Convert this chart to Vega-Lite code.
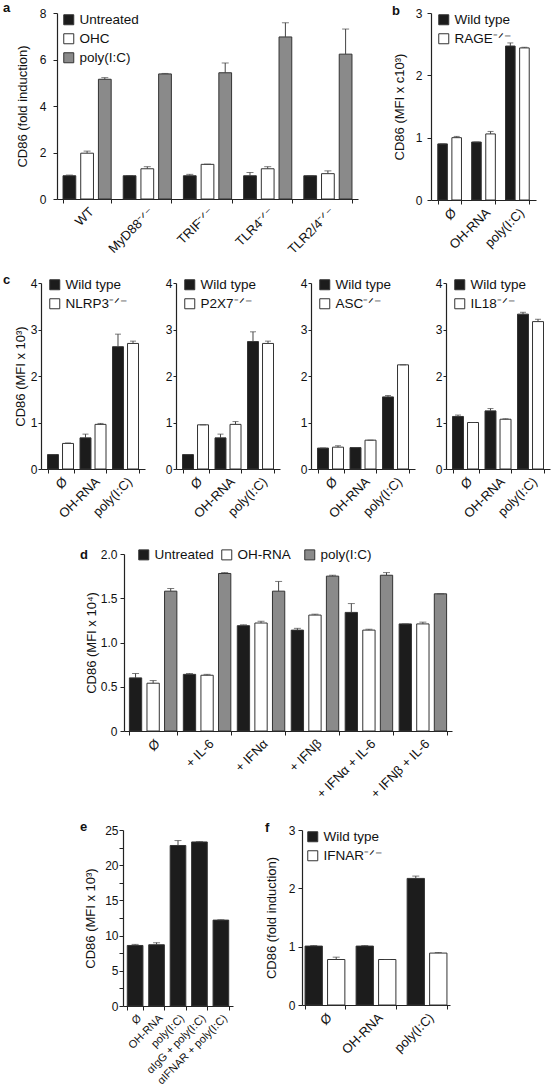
{
  "$schema": "https://vega.github.io/schema/vega-lite/v6.json",
  "padding": {"left": 2, "top": 2, "right": 2, "bottom": 0},
  "config": {
    "font": "Liberation Sans",
    "view": {"stroke": null},
    "axis": {"domainColor": "#222", "tickColor": "#222", "labelColor": "#111", "titleColor": "#111", "labelFontSize": 12, "titleFontSize": 13, "titleFontWeight": "normal", "grid": false, "tickSize": 4, "domainWidth": 1.2, "labelOverlap": false},
    "axisX": {"labelAngle": -45, "tickBand": "extent", "labelPadding": 2, "labelFontSize": 13},
    "legend": {"title": null, "orient": "none", "symbolType": "square", "symbolSize": 100, "labelFontSize": 13.5, "labelColor": "#111", "rowPadding": 4, "labelOffset": 4, "symbolStrokeColor": "#333", "symbolStrokeWidth": 1},
    "title": {"fontSize": 13, "fontWeight": "bold", "anchor": "start", "frame": "group", "color": "#111"}
  },
  "datasets": {
    "a": [
      {"g": "WT", "t": "Untreated", "v": 1.0, "hi": 1.03},
      {"g": "WT", "t": "OHC", "v": 1.97, "hi": 2.06},
      {"g": "WT", "t": "poly(I:C)", "v": 5.15, "hi": 5.22},
      {"g": "MyD88⁻ᐟ⁻", "t": "Untreated", "v": 1.0, "hi": 1.01},
      {"g": "MyD88⁻ᐟ⁻", "t": "OHC", "v": 1.3, "hi": 1.39},
      {"g": "MyD88⁻ᐟ⁻", "t": "poly(I:C)", "v": 5.38, "hi": 5.4},
      {"g": "TRIF⁻ᐟ⁻", "t": "Untreated", "v": 1.0, "hi": 1.06},
      {"g": "TRIF⁻ᐟ⁻", "t": "OHC", "v": 1.49, "hi": 1.5},
      {"g": "TRIF⁻ᐟ⁻", "t": "poly(I:C)", "v": 5.43, "hi": 5.85},
      {"g": "TLR4⁻ᐟ⁻", "t": "Untreated", "v": 1.0, "hi": 1.14},
      {"g": "TLR4⁻ᐟ⁻", "t": "OHC", "v": 1.3, "hi": 1.39},
      {"g": "TLR4⁻ᐟ⁻", "t": "poly(I:C)", "v": 6.97, "hi": 7.58},
      {"g": "TLR2/4⁻ᐟ⁻", "t": "Untreated", "v": 1.0, "hi": 1.0},
      {"g": "TLR2/4⁻ᐟ⁻", "t": "OHC", "v": 1.09, "hi": 1.21},
      {"g": "TLR2/4⁻ᐟ⁻", "t": "poly(I:C)", "v": 6.23, "hi": 7.31}
    ],
    "b": [
      {"g": "Ø", "t": "Wild type", "v": 0.9, "hi": 0.9},
      {"g": "Ø", "t": "RAGE⁻ᐟ⁻", "v": 1.0, "hi": 1.02},
      {"g": "OH-RNA", "t": "Wild type", "v": 0.93, "hi": 0.93},
      {"g": "OH-RNA", "t": "RAGE⁻ᐟ⁻", "v": 1.06, "hi": 1.1},
      {"g": "poly(I:C)", "t": "Wild type", "v": 2.47, "hi": 2.52},
      {"g": "poly(I:C)", "t": "RAGE⁻ᐟ⁻", "v": 2.44, "hi": 2.45}
    ],
    "c1": [
      {"g": "Ø", "t": "Wild type", "v": 0.31, "hi": 0.31},
      {"g": "Ø", "t": "NLRP3⁻ᐟ⁻", "v": 0.55, "hi": 0.56},
      {"g": "OH-RNA", "t": "Wild type", "v": 0.67, "hi": 0.75},
      {"g": "OH-RNA", "t": "NLRP3⁻ᐟ⁻", "v": 0.96, "hi": 0.98},
      {"g": "poly(I:C)", "t": "Wild type", "v": 2.63, "hi": 2.9},
      {"g": "poly(I:C)", "t": "NLRP3⁻ᐟ⁻", "v": 2.7, "hi": 2.75}
    ],
    "c2": [
      {"g": "Ø", "t": "Wild type", "v": 0.31, "hi": 0.31},
      {"g": "Ø", "t": "P2X7⁻ᐟ⁻", "v": 0.95, "hi": 0.95},
      {"g": "OH-RNA", "t": "Wild type", "v": 0.67, "hi": 0.75},
      {"g": "OH-RNA", "t": "P2X7⁻ᐟ⁻", "v": 0.96, "hi": 1.02},
      {"g": "poly(I:C)", "t": "Wild type", "v": 2.74, "hi": 2.95},
      {"g": "poly(I:C)", "t": "P2X7⁻ᐟ⁻", "v": 2.7, "hi": 2.75}
    ],
    "c3": [
      {"g": "Ø", "t": "Wild type", "v": 0.45, "hi": 0.45},
      {"g": "Ø", "t": "ASC⁻ᐟ⁻", "v": 0.47, "hi": 0.5},
      {"g": "OH-RNA", "t": "Wild type", "v": 0.46, "hi": 0.46},
      {"g": "OH-RNA", "t": "ASC⁻ᐟ⁻", "v": 0.62, "hi": 0.62},
      {"g": "poly(I:C)", "t": "Wild type", "v": 1.55, "hi": 1.58},
      {"g": "poly(I:C)", "t": "ASC⁻ᐟ⁻", "v": 2.24, "hi": 2.24}
    ],
    "c4": [
      {"g": "Ø", "t": "Wild type", "v": 1.13, "hi": 1.16},
      {"g": "Ø", "t": "IL18⁻ᐟ⁻", "v": 1.0, "hi": 1.0},
      {"g": "OH-RNA", "t": "Wild type", "v": 1.25, "hi": 1.3},
      {"g": "OH-RNA", "t": "IL18⁻ᐟ⁻", "v": 1.07, "hi": 1.08},
      {"g": "poly(I:C)", "t": "Wild type", "v": 3.33, "hi": 3.37},
      {"g": "poly(I:C)", "t": "IL18⁻ᐟ⁻", "v": 3.17, "hi": 3.22}
    ],
    "d": [
      {"g": "Ø", "t": "Untreated", "v": 0.6, "hi": 0.65},
      {"g": "Ø", "t": "OH-RNA", "v": 0.54, "hi": 0.57},
      {"g": "Ø", "t": "poly(I:C)", "v": 1.58, "hi": 1.61},
      {"g": "+ IL-6", "t": "Untreated", "v": 0.64, "hi": 0.65},
      {"g": "+ IL-6", "t": "OH-RNA", "v": 0.63, "hi": 0.64},
      {"g": "+ IL-6", "t": "poly(I:C)", "v": 1.78, "hi": 1.79},
      {"g": "+ IFNα", "t": "Untreated", "v": 1.19, "hi": 1.2},
      {"g": "+ IFNα", "t": "OH-RNA", "v": 1.22, "hi": 1.24},
      {"g": "+ IFNα", "t": "poly(I:C)", "v": 1.58, "hi": 1.69},
      {"g": "+ IFNβ", "t": "Untreated", "v": 1.14, "hi": 1.16},
      {"g": "+ IFNβ", "t": "OH-RNA", "v": 1.31, "hi": 1.32},
      {"g": "+ IFNβ", "t": "poly(I:C)", "v": 1.75, "hi": 1.76},
      {"g": "+ IFNα + IL-6", "t": "Untreated", "v": 1.34, "hi": 1.44},
      {"g": "+ IFNα + IL-6", "t": "OH-RNA", "v": 1.14, "hi": 1.15},
      {"g": "+ IFNα + IL-6", "t": "poly(I:C)", "v": 1.76, "hi": 1.79},
      {"g": "+ IFNβ + IL-6", "t": "Untreated", "v": 1.21, "hi": 1.21},
      {"g": "+ IFNβ + IL-6", "t": "OH-RNA", "v": 1.21, "hi": 1.23},
      {"g": "+ IFNβ + IL-6", "t": "poly(I:C)", "v": 1.55, "hi": 1.55}
    ],
    "e": [
      {"g": "Ø", "v": 8.6, "hi": 8.75},
      {"g": "OH-RNA", "v": 8.7, "hi": 9.0},
      {"g": "poly(I:C)", "v": 22.8, "hi": 23.5},
      {"g": "αIgG + poly(I:C)", "v": 23.3, "hi": 23.35},
      {"g": "αIFNAR + poly(I:C)", "v": 12.2, "hi": 12.25}
    ],
    "f": [
      {"g": "Ø", "t": "Wild type", "v": 1.01, "hi": 1.02},
      {"g": "Ø", "t": "IFNAR⁻ᐟ⁻", "v": 0.78, "hi": 0.82},
      {"g": "OH-RNA", "t": "Wild type", "v": 1.01, "hi": 1.02},
      {"g": "OH-RNA", "t": "IFNAR⁻ᐟ⁻", "v": 0.78, "hi": 0.78},
      {"g": "poly(I:C)", "t": "Wild type", "v": 2.17, "hi": 2.21},
      {"g": "poly(I:C)", "t": "IFNAR⁻ᐟ⁻", "v": 0.89, "hi": 0.9}
    ]
  },
  "spacing": 0,
  "resolve": {"scale": {"color": "independent", "x": "independent", "y": "independent", "xOffset": "independent"}},
  "vconcat": [
    {
      "spacing": 0,
      "resolve": {"scale": {"color": "independent", "x": "independent", "y": "independent", "xOffset": "independent"}},
      "hconcat": [
        {"width": 1, "height": 1, "mark": "point", "data": {"values": []}},
        {
          "spacing": 34,
          "resolve": {"scale": {"color": "independent", "x": "independent", "y": "independent", "xOffset": "independent"}},
          "hconcat": [
            {
              "title": {"text": "a", "dx": -54, "dy": 12},
              "width": 301, "height": 186,
              "data": {"name": "a"},
              "encoding": {
                "x": {"field": "g", "type": "nominal", "sort": null, "title": null, "scale": {"paddingInner": 0.2, "paddingOuter": 0.1}},
                "xOffset": {"field": "t", "type": "nominal", "sort": null, "scale": {"paddingInner": 0.28, "paddingOuter": 0}}
              },
              "layer": [
                {"mark": {"type": "bar", "stroke": "#333", "strokeWidth": 1},
                 "encoding": {
                   "y": {"field": "v", "type": "quantitative", "title": "CD86 (fold induction)", "scale": {"domain": [0, 8]}, "axis": {"values": [0,1,2,3,4,5,6,7,8], "labelExpr": "datum.value % 2 === 0 ? format(datum.value, 'd') : ''", "labelOverlap": false, "labelPadding": 7, "titlePadding": 10}},
                   "color": {"field": "t", "type": "nominal", "scale": {"domain": ["Untreated", "OHC", "poly(I:C)"], "range": ["#1c1c1c", "#ffffff", "#8a8a8a"]}, "legend": {"legendX": 5, "legendY": 0}}
                 }},
                {"mark": {"type": "rule", "color": "#444"}, "encoding": {"y": {"field": "v", "type": "quantitative", "title": "CD86 (fold induction)"}, "y2": {"field": "hi"}}},
                {"mark": {"type": "tick", "color": "#444", "size": 7, "thickness": 1}, "encoding": {"y": {"field": "hi", "type": "quantitative", "title": "CD86 (fold induction)"}}}
              ]
            },
            {
              "title": {"text": "b", "dx": -39, "dy": 15},
              "width": 105, "height": 187,
              "data": {"name": "b"},
              "encoding": {
                "x": {"field": "g", "type": "nominal", "sort": null, "title": null, "scale": {"paddingInner": 0.3, "paddingOuter": 0.2}},
                "xOffset": {"field": "t", "type": "nominal", "sort": null, "scale": {"paddingInner": 0.32, "paddingOuter": 0}}
              },
              "layer": [
                {"mark": {"type": "bar", "stroke": "#333", "strokeWidth": 1},
                 "encoding": {
                   "y": {"field": "v", "type": "quantitative", "title": "CD86 (MFI x c10³)", "scale": {"domain": [0, 3]}, "axis": {"values": [0,0.5,1,1.5,2,2.5,3], "labelExpr": "datum.value % 1 === 0 ? format(datum.value, 'd') : ''", "labelOverlap": false, "labelPadding": 5, "titlePadding": 9}},
                   "color": {"field": "t", "type": "nominal", "scale": {"domain": ["Wild type", "RAGE⁻ᐟ⁻"], "range": ["#1c1c1c", "#ffffff"]}, "legend": {"legendX": 6, "legendY": 0}}
                 }},
                {"mark": {"type": "rule", "color": "#444"}, "encoding": {"y": {"field": "v", "type": "quantitative", "title": "CD86 (MFI x c10³)"}, "y2": {"field": "hi"}}},
                {"mark": {"type": "tick", "color": "#444", "size": 6, "thickness": 1}, "encoding": {"y": {"field": "hi", "type": "quantitative", "title": "CD86 (MFI x c10³)"}}}
              ]
            }
          ]
        }
      ]
    },
    {"width": 1, "height": 17, "mark": "point", "data": {"values": []}},
    {
      "spacing": 0,
      "resolve": {"scale": {"color": "independent", "x": "independent", "y": "independent", "xOffset": "independent"}},
      "hconcat": [
        {"width": 1, "height": 1, "mark": "point", "data": {"values": []}},
        {
          "spacing": 20,
          "resolve": {"scale": {"color": "independent", "x": "independent", "y": "independent", "xOffset": "independent"}},
          "hconcat": [
            {
              "title": {"text": "c", "dx": -38, "dy": 14},
              "width": 104, "height": 186,
              "data": {"name": "c1"},
              "encoding": {
                "x": {"field": "g", "type": "nominal", "sort": null, "title": null, "scale": {"paddingInner": 0.2, "paddingOuter": 0.2}},
                "xOffset": {"field": "t", "type": "nominal", "sort": null, "scale": {"paddingInner": 0.27, "paddingOuter": 0}}
              },
              "layer": [
                {"mark": {"type": "bar", "stroke": "#333", "strokeWidth": 1},
                 "encoding": {
                   "y": {"field": "v", "type": "quantitative", "title": "CD86 (MFI x 10³)", "scale": {"domain": [0, 4]}, "axis": {"values": [0,0.5,1,1.5,2,2.5,3,3.5,4], "labelExpr": "datum.value % 1 === 0 ? format(datum.value, 'd') : ''", "labelOverlap": false, "tickSize": 3, "labelPadding": 1, "titlePadding": 3}},
                   "color": {"field": "t", "type": "nominal", "scale": {"domain": ["Wild type", "NLRP3⁻ᐟ⁻"], "range": ["#1c1c1c", "#ffffff"]}, "legend": {"legendX": 7, "legendY": -5}}
                 }},
                {"mark": {"type": "rule", "color": "#444"}, "encoding": {"y": {"field": "v", "type": "quantitative", "title": "CD86 (MFI x 10³)"}, "y2": {"field": "hi"}}},
                {"mark": {"type": "tick", "color": "#444", "size": 6, "thickness": 1}, "encoding": {"y": {"field": "hi", "type": "quantitative", "title": "CD86 (MFI x 10³)"}}}
              ]
            },
            {
              "width": 104, "height": 186,
              "data": {"name": "c2"},
              "encoding": {
                "x": {"field": "g", "type": "nominal", "sort": null, "title": null, "scale": {"paddingInner": 0.2, "paddingOuter": 0.2}},
                "xOffset": {"field": "t", "type": "nominal", "sort": null, "scale": {"paddingInner": 0.27, "paddingOuter": 0}}
              },
              "layer": [
                {"mark": {"type": "bar", "stroke": "#333", "strokeWidth": 1},
                 "encoding": {
                   "y": {"field": "v", "type": "quantitative", "title": null, "scale": {"domain": [0, 4]}, "axis": {"values": [0,0.5,1,1.5,2,2.5,3,3.5,4], "labelExpr": "datum.value % 1 === 0 ? format(datum.value, 'd') : ''", "labelOverlap": false, "tickSize": 3, "labelPadding": 1}},
                   "color": {"field": "t", "type": "nominal", "scale": {"domain": ["Wild type", "P2X7⁻ᐟ⁻"], "range": ["#1c1c1c", "#ffffff"]}, "legend": {"legendX": 7, "legendY": -5}}
                 }},
                {"mark": {"type": "rule", "color": "#444"}, "encoding": {"y": {"field": "v", "type": "quantitative", "title": null}, "y2": {"field": "hi"}}},
                {"mark": {"type": "tick", "color": "#444", "size": 6, "thickness": 1}, "encoding": {"y": {"field": "hi", "type": "quantitative", "title": null}}}
              ]
            },
            {
              "width": 104, "height": 186,
              "data": {"name": "c3"},
              "encoding": {
                "x": {"field": "g", "type": "nominal", "sort": null, "title": null, "scale": {"paddingInner": 0.2, "paddingOuter": 0.2}},
                "xOffset": {"field": "t", "type": "nominal", "sort": null, "scale": {"paddingInner": 0.27, "paddingOuter": 0}}
              },
              "layer": [
                {"mark": {"type": "bar", "stroke": "#333", "strokeWidth": 1},
                 "encoding": {
                   "y": {"field": "v", "type": "quantitative", "title": null, "scale": {"domain": [0, 4]}, "axis": {"values": [0,0.5,1,1.5,2,2.5,3,3.5,4], "labelExpr": "datum.value % 1 === 0 ? format(datum.value, 'd') : ''", "labelOverlap": false, "tickSize": 3, "labelPadding": 1}},
                   "color": {"field": "t", "type": "nominal", "scale": {"domain": ["Wild type", "ASC⁻ᐟ⁻"], "range": ["#1c1c1c", "#ffffff"]}, "legend": {"legendX": 7, "legendY": -5}}
                 }},
                {"mark": {"type": "rule", "color": "#444"}, "encoding": {"y": {"field": "v", "type": "quantitative", "title": null}, "y2": {"field": "hi"}}},
                {"mark": {"type": "tick", "color": "#444", "size": 6, "thickness": 1}, "encoding": {"y": {"field": "hi", "type": "quantitative", "title": null}}}
              ]
            },
            {
              "width": 104, "height": 186,
              "data": {"name": "c4"},
              "encoding": {
                "x": {"field": "g", "type": "nominal", "sort": null, "title": null, "scale": {"paddingInner": 0.2, "paddingOuter": 0.2}},
                "xOffset": {"field": "t", "type": "nominal", "sort": null, "scale": {"paddingInner": 0.27, "paddingOuter": 0}}
              },
              "layer": [
                {"mark": {"type": "bar", "stroke": "#333", "strokeWidth": 1},
                 "encoding": {
                   "y": {"field": "v", "type": "quantitative", "title": null, "scale": {"domain": [0, 4]}, "axis": {"values": [0,0.5,1,1.5,2,2.5,3,3.5,4], "labelExpr": "datum.value % 1 === 0 ? format(datum.value, 'd') : ''", "labelOverlap": false, "tickSize": 3, "labelPadding": 1}},
                   "color": {"field": "t", "type": "nominal", "scale": {"domain": ["Wild type", "IL18⁻ᐟ⁻"], "range": ["#1c1c1c", "#ffffff"]}, "legend": {"legendX": 7, "legendY": -5}}
                 }},
                {"mark": {"type": "rule", "color": "#444"}, "encoding": {"y": {"field": "v", "type": "quantitative", "title": null}, "y2": {"field": "hi"}}},
                {"mark": {"type": "tick", "color": "#444", "size": 6, "thickness": 1}, "encoding": {"y": {"field": "hi", "type": "quantitative", "title": null}}}
              ]
            }
          ]
        }
      ]
    },
    {"width": 1, "height": 27, "mark": "point", "data": {"values": []}},
    {
      "spacing": 0,
      "resolve": {"scale": {"color": "independent", "x": "independent", "y": "independent", "xOffset": "independent"}},
      "hconcat": [
        {"width": 78, "height": 1, "mark": "point", "data": {"values": []}},
        {
          "title": {"text": "d", "dx": -44, "dy": 18},
          "width": 328, "height": 177,
          "data": {"name": "d"},
          "encoding": {
            "x": {"field": "g", "type": "nominal", "sort": null, "title": null, "scale": {"paddingInner": 0.12, "paddingOuter": 0.1}},
            "xOffset": {"field": "t", "type": "nominal", "sort": null, "scale": {"paddingInner": 0.3, "paddingOuter": 0}}
          },
          "layer": [
            {"mark": {"type": "bar", "stroke": "#333", "strokeWidth": 1},
             "encoding": {
               "y": {"field": "v", "type": "quantitative", "title": "CD86 (MFI x 10⁴)", "scale": {"domain": [0, 2]}, "axis": {"values": [0,0.25,0.5,0.75,1,1.25,1.5,1.75,2], "labelExpr": "datum.value % 0.5 === 0 ? (datum.value === 0 ? '0' : format(datum.value, '.1f')) : ''", "labelOverlap": false, "labelPadding": 3, "titlePadding": 2}},
               "color": {"field": "t", "type": "nominal", "scale": {"domain": ["Untreated", "OH-RNA", "poly(I:C)"], "range": ["#1c1c1c", "#ffffff", "#8a8a8a"]}, "legend": {"legendX": 13, "legendY": -6, "direction": "horizontal", "columns": 3, "gridAlign": "all", "columnPadding": 5}}
             }},
            {"mark": {"type": "rule", "color": "#444"}, "encoding": {"y": {"field": "v", "type": "quantitative", "title": "CD86 (MFI x 10⁴)"}, "y2": {"field": "hi"}}},
            {"mark": {"type": "tick", "color": "#444", "size": 7, "thickness": 1}, "encoding": {"y": {"field": "hi", "type": "quantitative", "title": "CD86 (MFI x 10⁴)"}}}
          ]
        }
      ]
    },
    {"width": 1, "height": 20, "mark": "point", "data": {"values": []}},
    {
      "spacing": 32,
      "resolve": {"scale": {"color": "independent", "x": "independent", "y": "independent", "xOffset": "independent"}},
      "hconcat": [
        {"width": 46, "height": 1, "mark": "point", "data": {"values": []}},
        {
          "title": {"text": "e", "dx": -43, "dy": 14},
          "width": 110, "height": 176,
          "data": {"name": "e"},
          "encoding": {
            "x": {"field": "g", "type": "nominal", "sort": null, "title": null, "scale": {"paddingInner": 0.27, "paddingOuter": 0.2}, "axis": {"labelFontSize": 11}}
          },
          "layer": [
            {"mark": {"type": "bar", "stroke": "#333", "strokeWidth": 1, "color": "#1c1c1c"},
             "encoding": {
               "y": {"field": "v", "type": "quantitative", "title": "CD86 (MFI x 10³)", "scale": {"domain": [0, 25], "nice": false}, "axis": {"values": [0,2.5,5,7.5,10,12.5,15,17.5,20,22.5,25], "labelExpr": "indexof([0,5,10,15,20,25], datum.value) >= 0 ? datum.value + '' : ''", "labelOverlap": false, "labelPadding": 1, "titlePadding": 7}}
             }},
            {"mark": {"type": "rule", "color": "#444"}, "encoding": {"y": {"field": "v", "type": "quantitative", "title": "CD86 (MFI x 10³)", "axis": {"values": [0,2.5,5,7.5,10,12.5,15,17.5,20,22.5,25], "labelExpr": "indexof([0,5,10,15,20,25], datum.value) >= 0 ? datum.value + '' : ''", "labelOverlap": false, "labelPadding": 1, "titlePadding": 7}}, "y2": {"field": "hi"}}},
            {"mark": {"type": "tick", "color": "#444", "size": 7, "thickness": 1}, "encoding": {"y": {"field": "hi", "type": "quantitative", "title": "CD86 (MFI x 10³)", "axis": {"values": [0,2.5,5,7.5,10,12.5,15,17.5,20,22.5,25], "labelExpr": "indexof([0,5,10,15,20,25], datum.value) >= 0 ? datum.value + '' : ''", "labelOverlap": false, "labelPadding": 1, "titlePadding": 7}}}}
          ]
        },
        {
          "title": {"text": "f", "dx": -37, "dy": 15},
          "width": 148, "height": 175,
          "data": {"name": "f"},
          "encoding": {
            "x": {"field": "g", "type": "nominal", "sort": null, "title": null, "scale": {"paddingInner": 0.22, "paddingOuter": 0.06}},
            "xOffset": {"field": "t", "type": "nominal", "sort": null, "scale": {"paddingInner": 0.23, "paddingOuter": 0}}
          },
          "layer": [
            {"mark": {"type": "bar", "stroke": "#333", "strokeWidth": 1},
             "encoding": {
               "y": {"field": "v", "type": "quantitative", "title": "CD86 (fold induction)", "scale": {"domain": [0, 3]}, "axis": {"values": [0,0.5,1,1.5,2,2.5,3], "labelExpr": "datum.value % 1 === 0 ? format(datum.value, 'd') : ''", "labelOverlap": false, "labelPadding": 3, "titlePadding": 10}},
               "color": {"field": "t", "type": "nominal", "scale": {"domain": ["Wild type", "IFNAR⁻ᐟ⁻"], "range": ["#1c1c1c", "#ffffff"]}, "legend": {"legendX": 4, "legendY": 0}}
             }},
            {"mark": {"type": "rule", "color": "#444"}, "encoding": {"y": {"field": "v", "type": "quantitative", "title": "CD86 (fold induction)"}, "y2": {"field": "hi"}}},
            {"mark": {"type": "tick", "color": "#444", "size": 7, "thickness": 1}, "encoding": {"y": {"field": "hi", "type": "quantitative", "title": "CD86 (fold induction)"}}}
          ]
        }
      ]
    }
  ]
}
